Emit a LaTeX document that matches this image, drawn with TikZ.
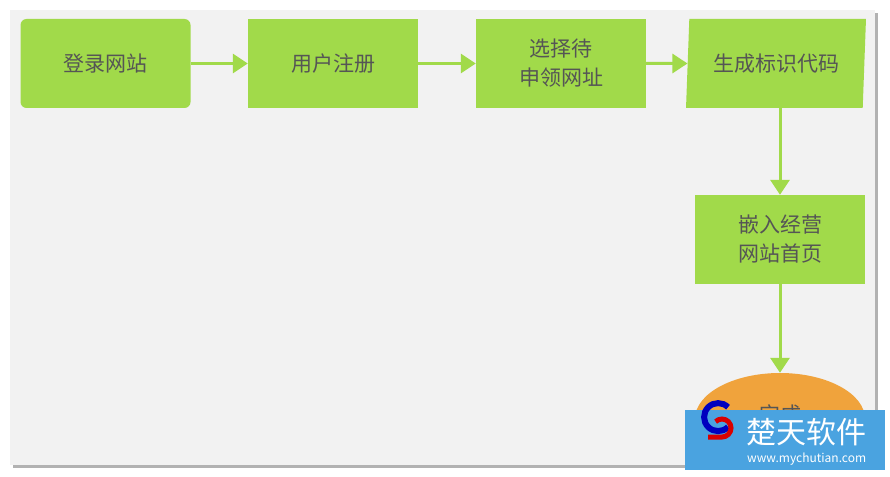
\documentclass[tikz,border=0pt]{standalone}
\usepackage{fontspec}
\newfontfamily\cjk{Noto Sans CJK SC}
\usetikzlibrary{arrows.meta, positioning, shapes.geometric}
\definecolor{stepgreen}{RGB}{161,218,74}
\definecolor{donefill}{RGB}{240,163,60}
\definecolor{panelgray}{RGB}{242,242,242}
\definecolor{textgray}{RGB}{85,85,85}
\definecolor{markblue}{RGB}{74,163,224}
\tikzset{
    stepbox/.style={fill=stepgreen, minimum width=170pt, minimum height=89pt, inner sep=0pt,
        align=center, font=\cjk\fontsize{21}{29}\selectfont, text=textgray},
    flow/.style={draw=stepgreen, line width=3pt, -{Triangle[length=15pt,width=19pt]}}
}
\begin{document}
\begin{tikzpicture}[x=1pt,y=-1pt]
    \useasboundingbox (0,0) rectangle (890,476);
    \fill[white] (0,0) rectangle (890,476);
    \fill[gray!60] (13,13) rectangle (878,468);
    \fill[panelgray] (10,10) rectangle (875,465);

    \node[stepbox, rounded corners=6pt] (login) at (105.5,63.5) {登录网站};
    \node[stepbox] (register) at (333,63.5) {用户注册};
    \node[stepbox] (choose) at (561,63.5) {选择待\\申领网址};
    \node[stepbox, trapezium, trapezium left angle=83, trapezium right angle=97,
        minimum width=180pt, trapezium stretches=true] (code) at (776,63.5) {生成标识代码};
    \node[stepbox] (embed) at (780,239.5) {嵌入经营\\网站首页};

    \begin{scope}
        \clip (10,10) rectangle (875,465);
        \node[ellipse, fill=donefill, minimum width=170pt, minimum height=92pt] (done) at (780,419) {};
    \end{scope}
    \node[font=\cjk\fontsize{21}{29}\selectfont, text=textgray] (donetext) at (780,414) {完成};

    \draw[flow] (login) -- (register);
    \draw[flow] (register) -- (choose);
    \draw[flow] (choose) -- (code.west);
    \draw[flow] (code.south -| embed) -- (embed);
    \draw[flow] (embed) -- (done.north);

    % watermark
    \fill[markblue] (685,410) rectangle (885,470);
    \draw[blue!75!black, line width=6pt] (728,427) arc (45:315:14);
    \draw[red!85!black, line width=5pt] (708,437) -- (722,437) arc (90:-135:9);
    \node[font=\cjk\fontsize{30}{31}\selectfont, text=white, anchor=west, inner sep=0pt] (mark) at (746,432) {楚天软件};
    \node[font=\cjk\fontsize{12}{13}\selectfont, text=white, anchor=west, inner sep=0pt] (site) at (747,459) {www.mychutian.com};
\end{tikzpicture}
\end{document}
